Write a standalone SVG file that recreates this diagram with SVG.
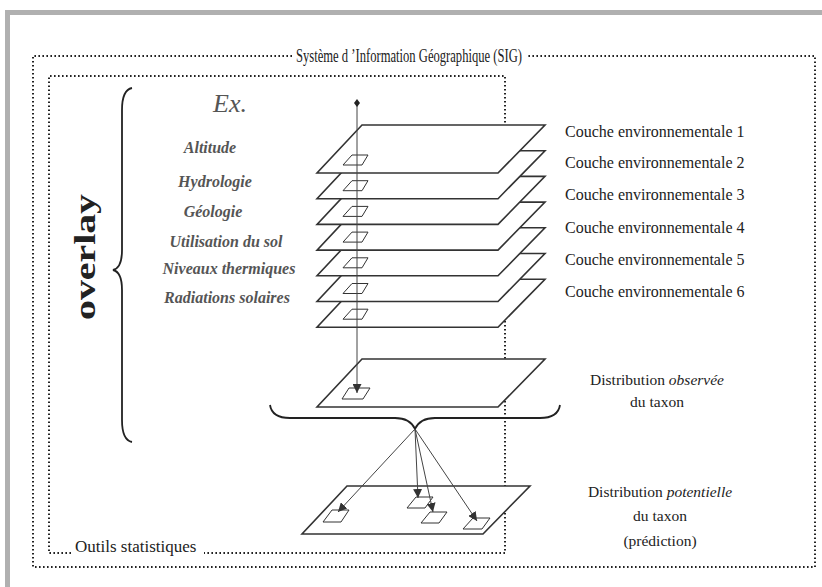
<svg xmlns="http://www.w3.org/2000/svg" width="822" height="587" viewBox="0 0 822 587">
<style>
  .dot { fill: none; stroke: #222; stroke-width: 2; stroke-dasharray: 1.6 2.4; }
  .plane { fill: #fff; stroke: #333; stroke-width: 1.6; stroke-linejoin: miter; }
  .sq { fill: #fff; stroke: #333; stroke-width: 1; }
  .ln { fill: none; stroke: #444; stroke-width: 1; }
  .br { fill: none; stroke: #222; stroke-width: 1.8; }
  .t { font-family: "Liberation Serif", "Times New Roman", serif; fill: #222; }
  .lab { font-family: "Liberation Serif", "Times New Roman", serif; font-style: italic; font-weight: bold; fill: #555; font-size: 16px; }
  .dl { font-family: "Liberation Serif", "Times New Roman", serif; fill: #222; font-size: 15.5px; text-anchor: middle; }
</style>
<defs>
  <marker id="ah" viewBox="0 0 10 10" refX="10" refY="5" markerWidth="9" markerHeight="9" markerUnits="userSpaceOnUse" orient="auto">
    <path d="M0,0 L10,5 L0,10 Z" fill="#333"/>
  </marker>
  <path id="pl" d="M45,0 L228,0 L181,48 L0,48 Z"/>
</defs>
<rect width="822" height="587" fill="#fff"/>
<!-- scan border -->
<rect x="5" y="10" width="817" height="5" fill="#b0b0b0"/>
<rect x="5" y="10" width="5" height="577" fill="#b0b0b0"/>

<!-- outer SIG frame -->
<g id="sig">
  <path class="dot" d="M292,56 L33,56 L33,567 L815,567 L815,56 L527,56"/>
  <text class="t" x="409" y="62" font-size="19" text-anchor="middle" textLength="226" lengthAdjust="spacingAndGlyphs">Système d ’Information Géographique (SIG)</text>
</g>
<!-- inner stats frame -->
<g id="stats">
  <path class="dot" d="M71,553 L49,553 L49,76 L505,76 L505,553 L204,553"/>
  <text class="t" x="75" y="552" font-size="17">Outils statistiques</text>
</g>

<!-- overlay brace -->
<g id="overlay">
  <path class="br" d="M132,88 Q122,90 122,110 L122,250 Q122,268 113,270 Q122,272 122,290 L122,420 Q122,440 132,442"/>
  <text class="t" font-weight="bold" font-size="30" transform="translate(95,320) rotate(-90)" textLength="126" lengthAdjust="spacingAndGlyphs">overlay</text>
</g>

<g id="examples">
  <text class="t" x="213" y="112" font-size="26" font-style="italic" style="fill:#555">Ex.</text>
  <text class="lab" x="210" y="153" text-anchor="middle">Altitude</text>
  <text class="lab" x="215" y="187" text-anchor="middle">Hydrologie</text>
  <text class="lab" x="213" y="217" text-anchor="middle">Géologie</text>
  <text class="lab" x="226" y="247" text-anchor="middle">Utilisation du sol</text>
  <text class="lab" x="229" y="274" text-anchor="middle">Niveaux thermiques</text>
  <text class="lab" x="227" y="303" text-anchor="middle">Radiations solaires</text>
</g>

<!-- layers, bottom first -->
<g id="layer7"><use href="#pl" class="plane" x="317" y="279.2"/><path class="sq" d="M352,309.2 L368,309.2 L362,319.2 L343,319.2 Z"/></g>
<g id="layer6"><use href="#pl" class="plane" x="317" y="253.5"/><path class="sq" d="M352,283.5 L368,283.5 L362,293.5 L343,293.5 Z"/></g>
<g id="layer5"><use href="#pl" class="plane" x="317" y="227.8"/><path class="sq" d="M352,257.8 L368,257.8 L362,267.8 L343,267.8 Z"/></g>
<g id="layer4"><use href="#pl" class="plane" x="317" y="202.1"/><path class="sq" d="M352,232.1 L368,232.1 L362,242.1 L343,242.1 Z"/></g>
<g id="layer3"><use href="#pl" class="plane" x="317" y="176.4"/><path class="sq" d="M352,206.4 L368,206.4 L362,216.4 L343,216.4 Z"/></g>
<g id="layer2"><use href="#pl" class="plane" x="317" y="150.7"/><path class="sq" d="M352,180.7 L368,180.7 L362,190.7 L343,190.7 Z"/></g>
<g id="layer1"><use href="#pl" class="plane" x="317" y="125"/><path class="sq" d="M352,155 L368,155 L362,165 L343,165 Z"/></g>

<g id="observed">
  <use href="#pl" class="plane" x="317" y="359"/>
  <path class="sq" d="M349,388 L370,388 L363,399 L342,399 Z"/>
</g>

<g id="potential">
  <use href="#pl" class="plane" x="302" y="486"/>
  <path class="sq" d="M332,510 L349,510 L341,522 L323,522 Z"/>
  <path class="sq" d="M416,497 L433,497 L425,508 L407,508 Z"/>
  <path class="sq" d="M430,512 L447,512 L439,523 L421,523 Z"/>
  <path class="sq" d="M473,518 L490,518 L482,529 L463,529 Z"/>
</g>

<!-- connectors -->
<g id="connectors">
  <line class="ln" x1="357" y1="103" x2="357" y2="393" marker-end="url(#ah)"/>
  <path d="M357,99 L360,103 L357,107 L354,103 Z" fill="#222"/>
  <path class="br" d="M270,405 Q272,418 290,418 L395,418 Q410,418 415,429 Q420,418 435,418 L540,418 Q558,418 560,405"/>
  <line class="ln" x1="415" y1="429" x2="338" y2="512" marker-end="url(#ah)"/>
  <line class="ln" x1="415" y1="429" x2="418" y2="498" marker-end="url(#ah)"/>
  <line class="ln" x1="415" y1="429" x2="433" y2="512" marker-end="url(#ah)"/>
  <line class="ln" x1="415" y1="429" x2="477" y2="521" marker-end="url(#ah)"/>
</g>

<g id="couche-labels">
  <text class="t" x="565" y="137" font-size="16">Couche environnementale 1</text>
  <text class="t" x="565" y="168" font-size="16">Couche environnementale 2</text>
  <text class="t" x="565" y="200" font-size="16">Couche environnementale 3</text>
  <text class="t" x="565" y="233" font-size="16">Couche environnementale 4</text>
  <text class="t" x="565" y="265" font-size="16">Couche environnementale 5</text>
  <text class="t" x="565" y="297" font-size="16">Couche environnementale 6</text>
</g>
<g id="observed-label">
  <text class="dl" x="657" y="385">Distribution <tspan font-style="italic">observée</tspan></text>
  <text class="dl" x="657" y="407">du taxon</text>
</g>
<g id="potential-label">
  <text class="dl" x="660" y="497">Distribution <tspan font-style="italic">potentielle</tspan></text>
  <text class="dl" x="660" y="521">du taxon</text>
  <text class="dl" x="660" y="546">(prédiction)</text>
</g>
</svg>
